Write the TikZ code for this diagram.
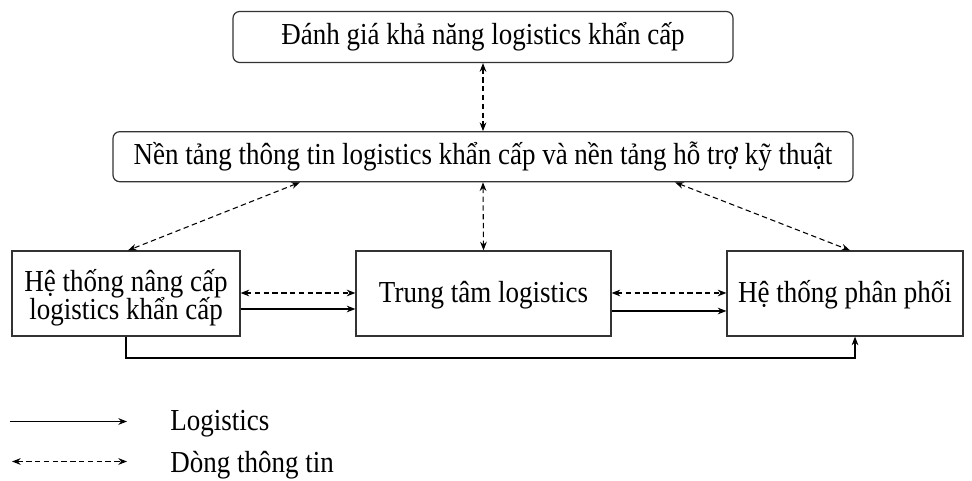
\documentclass[tikz,border=0pt]{standalone}
\usepackage{fontspec}
\usepackage{graphicx}
\setmainfont{Liberation Serif}
\usetikzlibrary{arrows.meta,calc}
% text set slightly taller than wide; #1 = depth of the first baseline below the node centre
\newcommand\lbl[2]{\raisebox{-#1}[0pt][0pt]{\scalebox{1}[1.13]{\vtop{\baselineskip=18.6pt\lineskiplimit=-\maxdimen\lineskip=0pt #2}}}}
\newcommand\ctr[1]{\hbox to 0pt{\hss#1\hss}}
\begin{document}
\begin{tikzpicture}[x=0.75pt,y=-0.75pt,
  every node/.style={font=\fontsize{20.25}{17.6}\selectfont,inner sep=0pt},
  box/.style={draw=black!80,line width=0.9pt,align=center},
  rbox/.style={box,rounded corners=5pt},
  flow/.style={-{Stealth[length=6.5pt,width=5pt]},line width=0.8pt},
  info/.style={{Stealth[length=6.5pt,width=5pt]}-{Stealth[length=6.5pt,width=5pt]},dash pattern=on 4pt off 2.6pt,line width=0.8pt}]
\useasboundingbox (0,0) rectangle (972,481);

% boxes
\node[rbox,minimum width=500*0.75pt,minimum height=51*0.75pt] (E) at (483,37) {\lbl{5.8pt}{\ctr{Đánh giá khả năng logistics khẩn cấp}}};
\node[rbox,minimum width=740*0.75pt,minimum height=50*0.75pt] (P) at (483,156.7) {\lbl{6.2pt}{\ctr{Nền tảng thông tin logistics khẩn cấp và nền tảng hỗ trợ kỹ thuật}}};
\node[box,minimum width=228*0.75pt,minimum height=85*0.75pt] (U) at (126,293.5) {\lbl{-1.6pt}{\ctr{Hệ thống nâng cấp}\ctr{logistics khẩn cấp}}};
\node[box,minimum width=255*0.75pt,minimum height=85*0.75pt] (C) at (483.5,293.5) {\lbl{6.4pt}{\ctr{Trung tâm logistics}}};
\node[box,minimum width=236*0.75pt,minimum height=85*0.75pt] (D) at (845,293.5) {\lbl{6.4pt}{\ctr{Hệ thống phân phối}}};

% rows used by the horizontal connectors
\coordinate (yinfo) at (0,293);
\coordinate (yflowA) at (0,309);
\coordinate (yflowB) at (0,311);
\coordinate (ybottom) at (0,358);

% information links
\draw[info] (E.south) -- (P.north);
\draw[info] (P.south) -- (C.north);
\draw[info] ($(P.south)+(-183,0)$) -- ($(U.north)+(2,0)$);
\draw[info] ($(P.south)+(192,0)$) -- ($(D.north)+(5,0)$);
\draw[info] (U.east |- yinfo) -- (C.west |- yinfo);
\draw[info] (C.east |- yinfo) -- (D.west |- yinfo);

% logistics links
\draw[flow] (U.east |- yflowA) -- (C.west |- yflowA);
\draw[flow] (C.east |- yflowB) -- (D.west |- yflowB);
\coordinate (dbot) at ($(D.south)+(10,0)$);
\draw[flow] (U.south) -- (U.south |- ybottom) -- (dbot |- ybottom) -- (dbot);

% legend
\coordinate (l1a) at (10,421.5);
\coordinate (l1b) at (127,421.5);
\coordinate (l2a) at (12,461.5);
\coordinate (l2b) at (127,461.5);
\draw[flow] (l1a) -- (l1b);
\draw[info] (l2a) -- (l2b);
\node[anchor=west] (t1) at (170,430) {\lbl{0pt}{\hbox{Logistics}}};
\node[anchor=west] (t2) at (170,472) {\lbl{0pt}{\hbox{Dòng thông tin}}};
\end{tikzpicture}
\end{document}
